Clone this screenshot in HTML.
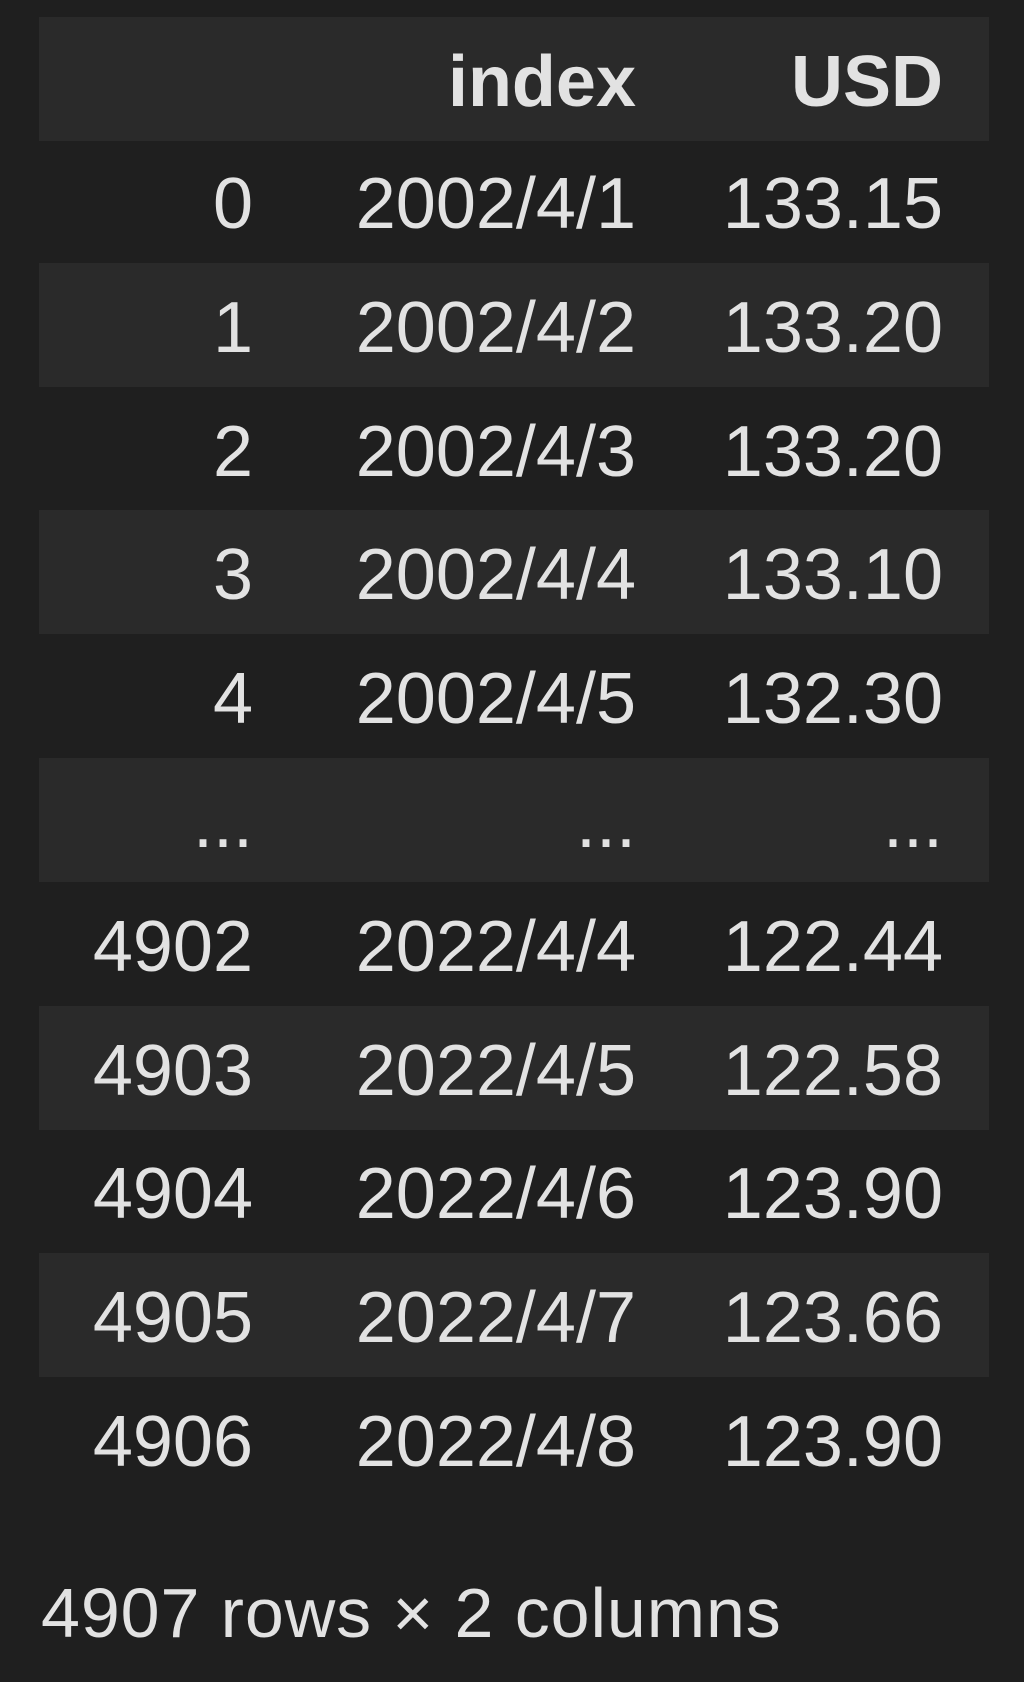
<!DOCTYPE html>
<html><head><meta charset="utf-8"><style>
html,body{margin:0;padding:0;background:#1f1f1f;width:1024px;height:1682px;overflow:hidden;}
body{font-family:"Liberation Sans",sans-serif;color:#e2e2e2;position:relative;}
.row{position:absolute;left:39px;width:950px;height:124px;}
.row.alt{background:#2a2a2a;}
.c{position:absolute;top:3px;height:124px;line-height:124px;text-align:right;font-size:72px;}
.c0{right:736px;}
.c1{right:353px;}
.c2{right:46px;}
.hdr .c{font-weight:bold;}
#footer{position:absolute;left:41px;top:1573px;font-size:70px;line-height:80px;letter-spacing:0.9px;}
</style></head><body>
<div id="table"></div>
<div id="footer">4907 rows × 2 columns</div>
<script>
const idx=["0","1","2","3","4","...","4902","4903","4904","4905","4906"];
const dates=["2002/4/1","2002/4/2","2002/4/3","2002/4/4","2002/4/5","...","2022/4/4","2022/4/5","2022/4/6","2022/4/7","2022/4/8"];
const usd=["133.15","133.20","133.20","133.10","132.30","...","122.44","122.58","123.90","123.66","123.90"];
const t=document.getElementById('table');
function mk(top,cls,vals){
  const r=document.createElement('div');
  r.className='row '+cls;
  r.style.top=top+'px';
  vals.forEach((v,i)=>{
    const c=document.createElement('div');
    c.className='c c'+i;
    c.textContent=v;
    
    
    r.appendChild(c);
  });
  t.appendChild(r);
  return r;
}
const h=mk(17,'alt hdr',["","index","USD"]);


for(let i=0;i<idx.length;i++){
  const r=mk(139+i*123.8,(i%2===1)?'alt':'',[idx[i],dates[i],usd[i]]);
  
  
}
</script>
</body></html>
